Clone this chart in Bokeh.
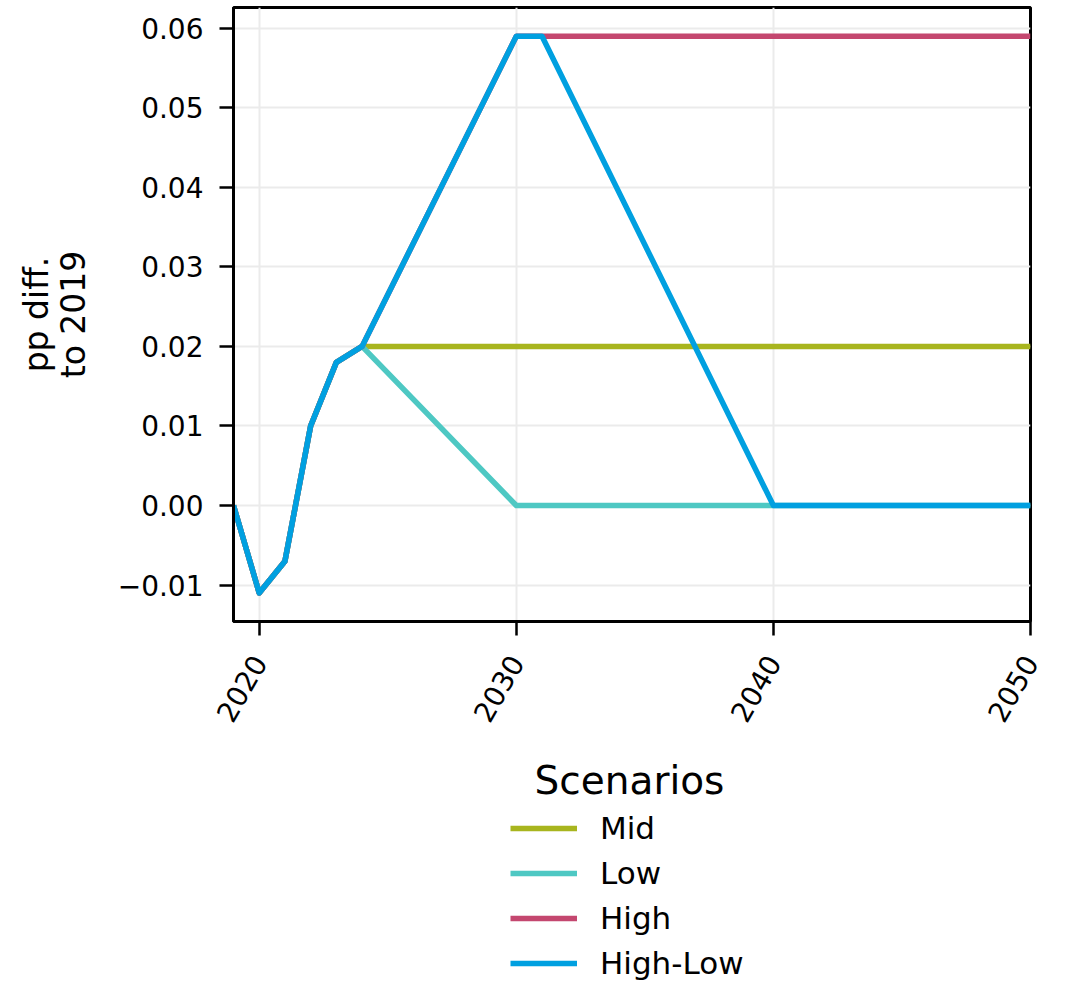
import math
from bokeh.plotting import figure
from bokeh.layouts import column
from bokeh.models import (Range1d, FixedTicker, CustomJSTickFormatter, Legend,
                          LegendItem, Label)
from bokeh.embed import file_html
from bokeh.resources import INLINE

# ---- data ----
years_mid = [2019, 2020, 2021, 2022, 2023, 2024, 2050]
mid = [0.0, -0.011, -0.007, 0.010, 0.018, 0.020, 0.020]

years_low = [2019, 2020, 2021, 2022, 2023, 2024, 2030, 2050]
low = [0.0, -0.011, -0.007, 0.010, 0.018, 0.020, 0.0, 0.0]

years_high = [2019, 2020, 2021, 2022, 2023, 2024, 2030, 2050]
high = [0.0, -0.011, -0.007, 0.010, 0.018, 0.020, 0.059, 0.059]

years_high_low = [2019, 2020, 2021, 2022, 2023, 2024, 2030, 2031, 2040, 2050]
high_low = [0.0, -0.011, -0.007, 0.010, 0.018, 0.020, 0.059, 0.059, 0.0, 0.0]

series_names = ["Mid", "Low", "High", "High-Low"]
series_colors = ["#a8b51e", "#4ec8c3", "#c4476f", "#00a0e0"]

x_ticks = [2020, 2030, 2040, 2050]
y_ticks = [-0.01, 0.0, 0.01, 0.02, 0.03, 0.04, 0.05, 0.06]

legend_title = "Scenarios"
y_label = "pp diff.\nto 2019"

FONT = "DejaVu Sans"
X_RANGE = (2019, 2050)
Y_RANGE = (-0.01458, 0.06261)
LINE_W = 5.5

series = [(years_mid, mid), (years_low, low), (years_high, high),
          (years_high_low, high_low)]

# ---------------- main chart ----------------
p = figure(width=1069, height=745, title=None,
           x_range=Range1d(*X_RANGE), y_range=Range1d(*Y_RANGE),
           output_backend="svg", toolbar_location=None,
           min_border_left=233, min_border_right=39, min_border_top=7,
           min_border_bottom=124)
p.background_fill_color = "white"
p.border_fill_color = "white"
p.outline_line_color = "black"
p.outline_line_width = 3

for ax in (p.xaxis[0], p.yaxis[0]):
    ax.axis_line_color = "black"
    ax.axis_line_width = 3
    ax.major_tick_in = 0
    ax.major_tick_out = 14
    ax.major_tick_line_width = 2.5
    ax.major_tick_line_color = "black"
    ax.minor_tick_line_color = None
    ax.major_label_text_font = FONT
    ax.major_label_text_font_size = "28px"
    ax.major_label_text_color = "black"

p.xaxis.ticker = FixedTicker(ticks=x_ticks)
p.xaxis.major_label_orientation = math.pi / 3
p.xaxis.major_label_standoff = 22

p.yaxis.ticker = FixedTicker(ticks=y_ticks)
p.yaxis.formatter = CustomJSTickFormatter(
    code="return (tick < -1e-12 ? '\u2212' : '') + Math.abs(tick).toFixed(2);")
p.yaxis.major_label_standoff = 16
p.yaxis.axis_label = y_label
p.yaxis.axis_label_text_font = FONT
p.yaxis.axis_label_text_font_size = "33px"
p.yaxis.axis_label_text_font_style = "normal"
p.yaxis.axis_label_text_color = "black"
p.yaxis.axis_label_text_line_height = 0.95
p.yaxis.axis_label_standoff = 22

p.xgrid.ticker = FixedTicker(ticks=x_ticks)
p.ygrid.ticker = FixedTicker(ticks=y_ticks)
for g in (p.xgrid[0], p.ygrid[0]):
    g.grid_line_color = "#ebebeb"
    g.grid_line_width = 2

for (xs, ys), color in zip(series, series_colors):
    p.line(xs, ys, line_color=color, line_width=LINE_W, line_join="round")

# ---------------- legend panel below ----------------
lg = figure(width=1069, height=236, title=None,
            x_range=Range1d(*X_RANGE), y_range=Range1d(*Y_RANGE),
            x_axis_type=None, y_axis_type=None,
            output_backend="svg", toolbar_location=None,
            min_border=0)
lg.outline_line_color = None
lg.background_fill_color = "white"
lg.border_fill_color = "white"

items = []
for (xs, ys), name, color in zip(series, series_names, series_colors):
    r = lg.line(xs, ys, line_color=color, line_width=LINE_W, visible=False)
    items.append(LegendItem(label=name, renderers=[r]))

legend = Legend(items=items, location=(277, 0), orientation="vertical",
                glyph_width=67, glyph_height=36, label_height=36,
                label_standoff=23, spacing=9, padding=0, margin=0,
                border_line_alpha=0, background_fill_alpha=0,
                inactive_fill_alpha=0,
                label_text_font=FONT, label_text_font_size="31px",
                label_text_color="black")
lg.add_layout(legend)

lg.add_layout(Label(text=legend_title, x=396, y=201, x_units="screen",
                    y_units="screen", text_align="center",
                    text_baseline="middle", text_font=FONT,
                    text_font_size="39px", text_color="black"))

open("out.html", "w").write(file_html(column(p, lg, spacing=0), INLINE))
